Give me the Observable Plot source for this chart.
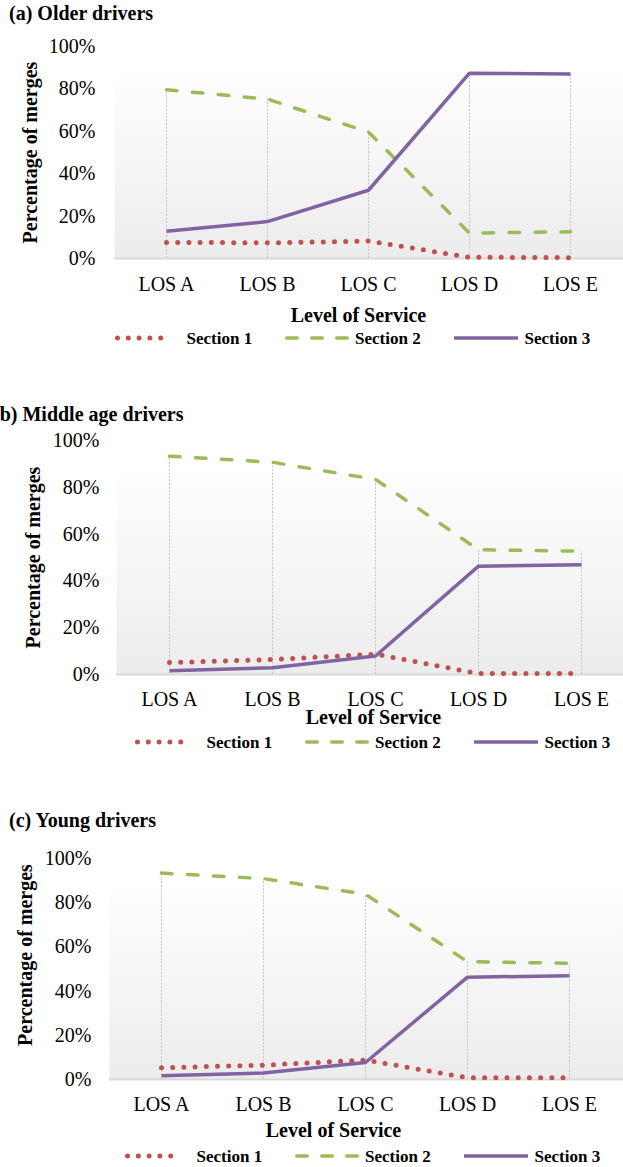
<!DOCTYPE html>
<html>
<head>
<meta charset="utf-8">
<script src="https://cdn.jsdelivr.net/npm/d3@7"></script>
<script src="https://cdn.jsdelivr.net/npm/@observablehq/plot@0.6"></script>
<style>
  body { margin: 0; background: #fff; }
  #root { position: relative; width: 623px; height: 1167px; overflow: hidden;
          font-family: "Liberation Serif", "Times New Roman", serif; color: #000; }
  .ptitle { position: absolute; font-weight: bold; font-size: 20px; line-height: 20px; white-space: nowrap; }
</style>
</head>
<body>
<div id="root"></div>
<script>
// ---------- data ----------
const losLevels = ["LOS A", "LOS B", "LOS C", "LOS D", "LOS E"];
const seriesNames = ["Section 1", "Section 2", "Section 3"];
const yTickValues = [0, 20, 40, 60, 80, 100];

// (a) Older drivers  (% of merges)
const olderSection1 = [7.6, 7.4, 8.2, 0.6, 0.4];
const olderSection2 = [79.6, 75.2, 59.6, 12.0, 12.6];
const olderSection3 = [12.8, 17.4, 32.2, 87.4, 87.0];

// (b) Middle age drivers
const middleSection1 = [5.1, 6.4, 8.7, 0.4, 0.4];
const middleSection2 = [93.3, 90.7, 83.4, 53.3, 52.7];
const middleSection3 = [1.6, 2.9, 7.9, 46.3, 46.9];

// (c) Young drivers
const youngSection1 = [5.3, 6.5, 8.8, 0.8, 0.8];
const youngSection2 = [93.4, 90.9, 83.8, 53.3, 52.6];
const youngSection3 = [1.7, 2.9, 7.7, 46.3, 46.9];

// ---------- styles ----------
const seriesStyle = {
  "Section 1": {stroke: "#C0504D", strokeWidth: 5, strokeDasharray: "0,11.2", strokeLinecap: "round"},
  "Section 2": {stroke: "#9BBB59", strokeWidth: 3.5, strokeDasharray: "10.5,15.5", strokeLinecap: "round"},
  "Section 3": {stroke: "#8064A2", strokeWidth: 3.5, strokeLinecap: "butt"}
};

const panels = [
  {key: "a", title: "(a) Older drivers", titleLeft: 9, titleTop: 3,
   values: [olderSection1, olderSection2, olderSection3],
   top: 0, height: 300, marginTop: 46, marginBottom: 42, marginLeft: 114, xRange: [114, 622.5],
   yPad: 19, xPad: 18, xTitleDx: -10.5, xTitleDy: 57, yTitleDx: -84, yTitleDy: 0, legendY: 338, legendX: 115},
  {key: "b", title: "(b) Middle age drivers", titleLeft: -7, titleTop: 404,
   values: [middleSection1, middleSection2, middleSection3],
   top: 390, height: 320, marginTop: 50, marginBottom: 36, marginLeft: 116, xRange: [117.5, 632.5],
   yPad: 17, xPad: 17, xTitleDx: 3.5, xTitleDy: 43, yTitleDx: -83, yTitleDy: 0, legendY: 742, legendX: 135},
  {key: "c", title: "(c) Young drivers", titleLeft: 9, titleTop: 810,
   values: [youngSection1, youngSection2, youngSection3],
   top: 800, height: 320, marginTop: 58, marginBottom: 41, marginLeft: 109, xRange: [109, 620],
   yPad: 18, xPad: 17, xTitleDx: -33, xTitleDy: 51, yTitleDx: -84, yTitleDy: -14, legendY: 1156, legendX: 125}
];

const root = document.getElementById("root");
const NS = "http://www.w3.org/2000/svg";

function makePanel(p) {
  const rows = [];
  seriesNames.forEach((s, si) => losLevels.forEach((l, i) => rows.push({los: l, series: s, value: p.values[si][i]})));
  const maxRows = losLevels.map((l, i) => ({los: l, max: d3.max(p.values, v => v[i])}));
  const gid = "bg-" + p.key;

  const chart = Plot.plot({
    width: 623,
    height: p.height,
    marginTop: p.marginTop,
    marginBottom: p.marginBottom,
    marginLeft: p.marginLeft,
    marginRight: 0,
    style: {fontFamily: "Liberation Serif, Times New Roman, serif", fontSize: "20px", color: "#000",
            background: "transparent", overflow: "visible"},
    x: {type: "point", domain: losLevels, range: p.xRange, padding: 0.5, tickSize: 0, tickPadding: p.xPad, label: null},
    y: {domain: [0, 100], ticks: yTickValues, tickFormat: d => d + "%", tickSize: 0, tickPadding: p.yPad, label: null},
    marks: [
      Plot.frame({fill: `url(#${gid})`, stroke: "none"}),
      Plot.ruleX(maxRows, {x: "los", y1: 0, y2: "max", stroke: "#c4c4c4", strokeWidth: 1, strokeDasharray: "2,1.5"}),
      Plot.ruleY([0], {stroke: "#d9d9d9", strokeWidth: 2}),
      ...seriesNames.map(s => Plot.line(rows.filter(r => r.series === s), {
        x: "los", y: "value", ...seriesStyle[s], strokeLinejoin: "round"
      })),
      Plot.text(["Level of Service"], {text: d => d, frameAnchor: "bottom", dx: p.xTitleDx, dy: p.xTitleDy,
        lineAnchor: "middle", textAnchor: "middle", fontWeight: "bold", fontSize: 20}),
      Plot.text(["Percentage of merges"], {text: d => d, frameAnchor: "left", rotate: -90, dx: p.yTitleDx, dy: p.yTitleDy,
        lineAnchor: "middle", textAnchor: "middle", fontWeight: "bold", fontSize: 20})
    ]
  });

  const defs = document.createElementNS(NS, "defs");
  defs.innerHTML = `<linearGradient id="${gid}" x1="0" y1="0" x2="0" y2="1">
      <stop offset="0" stop-color="#ffffff"/><stop offset="0.1" stop-color="#ffffff"/>
      <stop offset="1" stop-color="#ececec"/></linearGradient>`;
  chart.insertBefore(defs, chart.firstChild);
  chart.style.position = "absolute";
  chart.style.left = "0px";
  chart.style.top = p.top + "px";
  root.appendChild(chart);

  // title
  const t = document.createElement("div");
  t.className = "ptitle";
  t.textContent = p.title;
  t.style.left = p.titleLeft + "px";
  t.style.top = p.titleTop + "px";
  root.appendChild(t);

  // legend
  const lg = document.createElementNS(NS, "svg");
  lg.setAttribute("width", 623);
  lg.setAttribute("height", 24);
  lg.style.position = "absolute";
  lg.style.left = "0px";
  lg.style.top = (p.legendY - 12) + "px";
  const offsets = [{m: [0, 59], t: 71.5}, {m: [170, 234], t: 240}, {m: [339, 403], t: 409.5}];
  seriesNames.forEach((s, i) => {
    const st = seriesStyle[s];
    const o = offsets[i];
    const line = document.createElementNS(NS, "line");
    const inset = st.strokeLinecap === "round" ? st.strokeWidth / 2 : 0;
    line.setAttribute("x1", p.legendX + o.m[0] + inset);
    line.setAttribute("x2", p.legendX + o.m[1] - inset);
    line.setAttribute("y1", 12);
    line.setAttribute("y2", 12);
    line.setAttribute("stroke", st.stroke);
    line.setAttribute("stroke-width", st.strokeWidth);
    line.setAttribute("stroke-linecap", st.strokeLinecap);
    if (s === "Section 1") line.setAttribute("stroke-dasharray", "0,10.8");
    else if (st.strokeDasharray) line.setAttribute("stroke-dasharray", "10.5,14.5");
    lg.appendChild(line);
    const tx = document.createElementNS(NS, "text");
    tx.setAttribute("x", p.legendX + o.t);
    tx.setAttribute("y", 12);
    tx.setAttribute("dy", "0.35em");
    tx.setAttribute("font-family", "Liberation Serif, Times New Roman, serif");
    tx.setAttribute("font-size", 17);
    tx.setAttribute("font-weight", "bold");
    tx.textContent = s;
    lg.appendChild(tx);
  });
  root.appendChild(lg);
}

panels.forEach(makePanel);
</script>
</body>
</html>
